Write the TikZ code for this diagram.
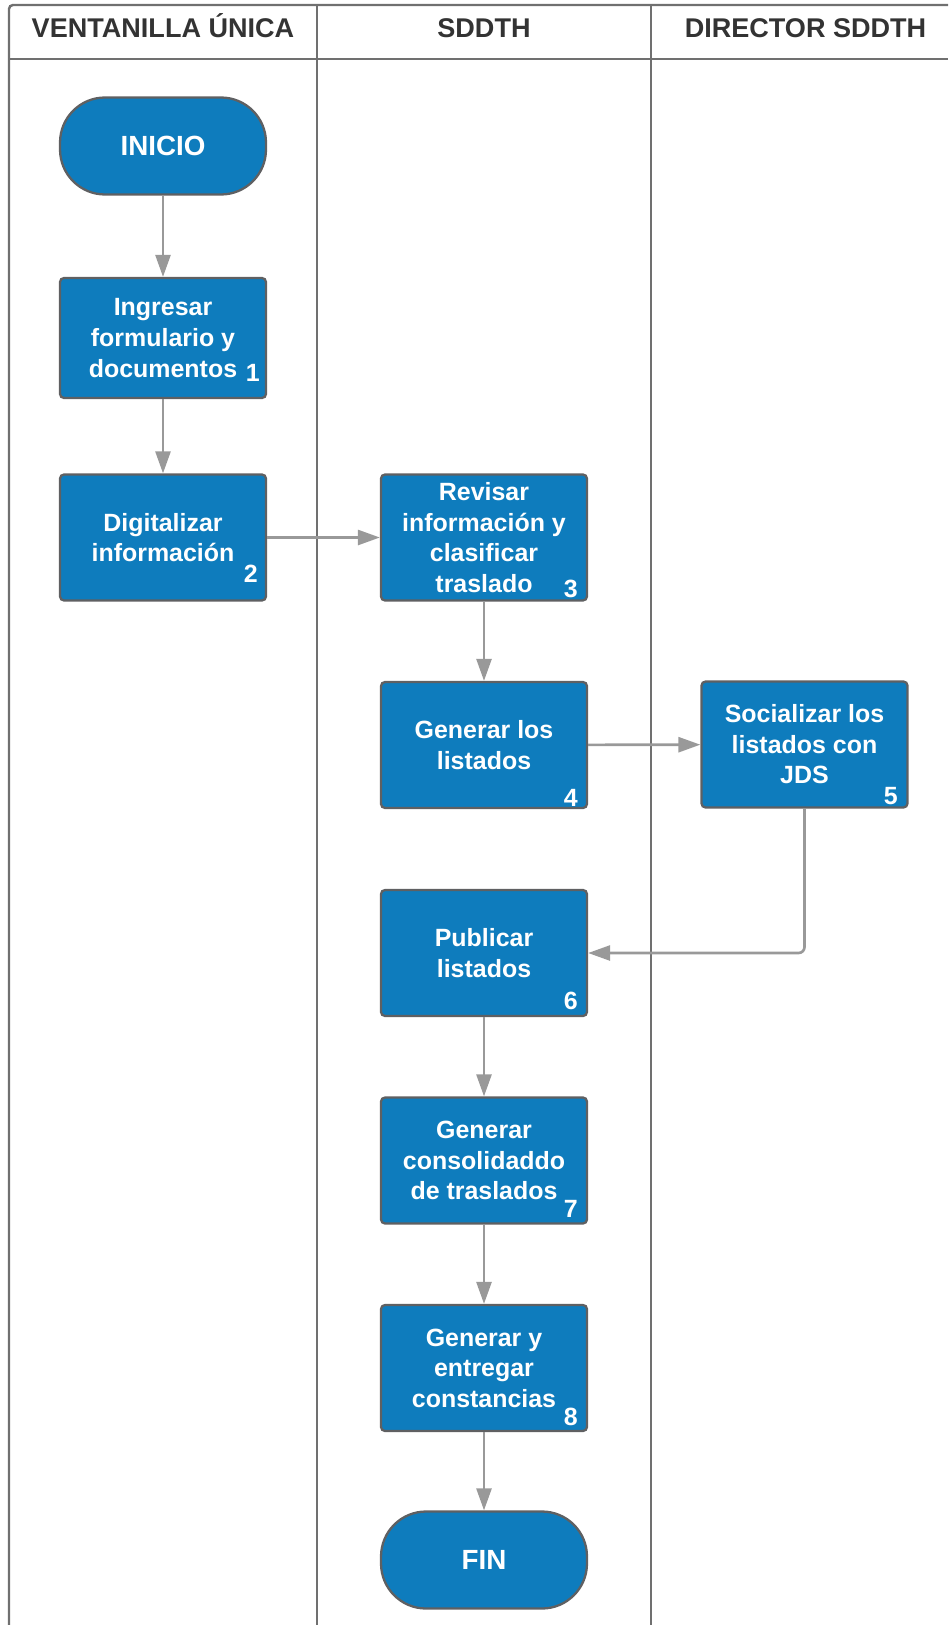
\documentclass[tikz,border=0pt]{standalone}
\usepackage{fontspec}
\setmainfont{Liberation Sans}
\usepackage{color}
\usepackage{tikz}
\usetikzlibrary{arrows.meta}
\definecolor{azulpaso}{RGB}{14,124,189}
\definecolor{bordepaso}{RGB}{95,96,98}
\definecolor{grisflecha}{RGB}{153,153,153}
\definecolor{griscarril}{RGB}{112,112,112}
\definecolor{gristitulo}{RGB}{51,51,51}
\tikzset{
  paso/.style={draw=bordepaso, line width=1.3pt, fill=azulpaso, rounded corners=0.08cm,
    minimum width=4.12cm, minimum height=2.52cm, inner sep=0pt, text=white, align=center,
    font=\fontsize{14.2pt}{17.4pt}\selectfont\bfseries},
  extremo/.style={paso, minimum height=1.94cm, rounded corners=0.9cm,
    font=\fontsize{15.8pt}{19pt}\selectfont\bfseries},
  numero/.style={text=white, anchor=base east, inner sep=0pt,
    font=\fontsize{14.2pt}{17pt}\selectfont\bfseries},
  carril/.style={draw=griscarril, line width=1.4pt},
  titulo/.style={text=gristitulo, anchor=base, inner sep=0pt,
    font=\fontsize{15.4pt}{18pt}\selectfont\bfseries},
  flecha/.style={draw=grisflecha, line width=1.5pt, ->, >={Triangle[length=0.44cm, width=0.3cm]}},
}
\begin{document}
\begin{tikzpicture}[x=0.02cm, y=-0.02cm]
\useasboundingbox (0,0) rectangle (948,1625);
\draw[carril, rounded corners=0.08cm](9,1625) -- (9,5) -- (948,5);
\draw[carril](9,59) -- (948,59);
\draw[carril](317,5) -- (317,1625);
\draw[carril](651,5) -- (651,1625);
\node[titulo] (ventanilla) at (163,37.5) {VENTANILLA ÚNICA};
\node[titulo] (sddth) at (484,37.5) {SDDTH};
\node[titulo] (director) at (805.5,37.5) {DIRECTOR SDDTH};
\node[extremo] (inicio) at (163,146) {INICIO};
\node[paso, minimum height=2.4cm] (p1) at (163,338) {Ingresar\\formulario y\\documentos};
\node[paso] (p2) at (163,537.5) {Digitalizar\\información};
\node[paso] (p3) at (484,537.5) {Revisar\\información y\\clasificar\\traslado};
\node[paso] (p4) at (484,745) {Generar los\\listados};
\node[paso] (p5) at (804.5,744.5) {Socializar los\\listados con\\JDS};
\node[paso] (p6) at (484,953) {Publicar\\listados};
\node[paso] (p7) at (484,1160.5) {Generar\\consolidaddo\\de traslados};
\node[paso] (p8) at (484,1368) {Generar y\\entregar\\constancias};
\node[extremo] (fin) at (484,1560) {FIN};
\node[numero] (n1) at (260,381) {1};
\node[numero] (n2) at (258,582) {2};
\node[numero] (n3) at (578,597) {3};
\node[numero] (n4) at (578,806) {4};
\node[numero] (n5) at (898,804) {5};
\node[numero] (n6) at (578,1009) {6};
\node[numero] (n7) at (578,1217) {7};
\node[numero] (n8) at (578,1425) {8};
\draw[flecha](inicio) -- (p1);
\draw[flecha](p1) -- (p2);
\draw[flecha](p2) -- (p3);
\draw[flecha](p3) -- (p4);
\draw[flecha](p4) -- (p5);
\draw[flecha, rounded corners=0.12cm](p5) |- (p6);
\draw[flecha](p6) -- (p7);
\draw[flecha](p7) -- (p8);
\draw[flecha](p8) -- (fin);
\end{tikzpicture}
\end{document}
